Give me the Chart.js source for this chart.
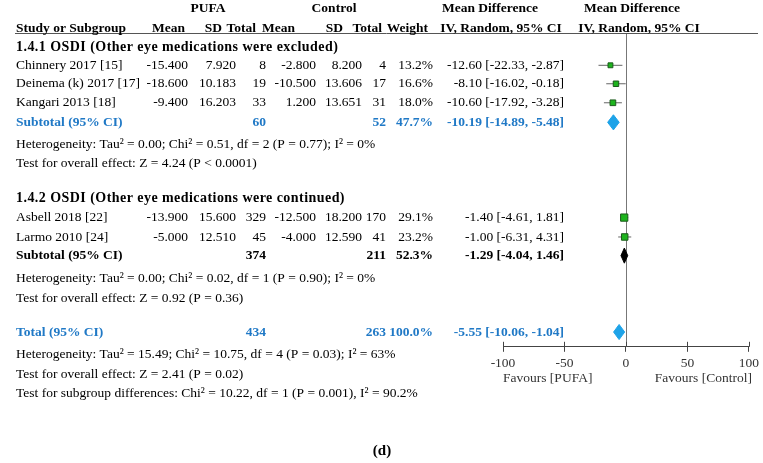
<!DOCTYPE html>
<html><head><meta charset="utf-8">
<script src="https://cdn.jsdelivr.net/npm/chart.js@4.4.0/dist/chart.umd.min.js"></script>
<style>html,body{margin:0;padding:0;background:#fff}#wrap{width:763px;height:463px;position:relative}</style>
</head><body><div id="wrap"><canvas id="c"></canvas></div>
<script>
// ---------- data ----------
const studies = ['Chinnery 2017 [15]', 'Deinema (k) 2017 [17]', 'Kangari 2013 [18]', 'Asbell 2018 [22]', 'Larmo 2010 [24]'];
const pufaMean = [-15.4, -18.6, -9.4, -13.9, -5.0];
const pufaSD = [7.92, 10.183, 16.203, 15.6, 12.51];
const pufaN = [8, 19, 33, 329, 45];
const ctrlMean = [-2.8, -10.5, 1.2, -12.5, -4.0];
const ctrlSD = [8.2, 13.606, 13.651, 18.2, 12.59];
const ctrlN = [4, 17, 31, 170, 41];
const weight = [13.2, 16.6, 18.0, 29.1, 23.2];
const md = [-12.60, -8.10, -10.60, -1.40, -1.00];
const ciLow = [-22.33, -16.02, -17.92, -4.61, -6.31];
const ciHigh = [-2.87, -0.18, -3.28, 1.81, 4.31];

const pooledLabels = ['Subtotal (95% CI)', 'Subtotal (95% CI)', 'Total (95% CI)'];
const pooledPufaN = [60, 374, 434];
const pooledCtrlN = [52, 211, 263];
const pooledWeight = [47.7, 52.3, 100.0];
const pooledMD = [-10.19, -1.29, -5.55];
const pooledLow = [-14.89, -4.04, -10.06];
const pooledHigh = [-5.48, 1.46, -1.04];

const subgroupTitles = ['1.4.1 OSDI (Other eye medications were excluded)', '1.4.2 OSDI (Other eye medications were continued)'];
const statLines = [
  'Heterogeneity: Tau² = 0.00; Chi² = 0.51, df = 2 (P = 0.77); I² = 0%',
  'Test for overall effect: Z = 4.24 (P < 0.0001)',
  'Heterogeneity: Tau² = 0.00; Chi² = 0.02, df = 1 (P = 0.90); I² = 0%',
  'Test for overall effect: Z = 0.92 (P = 0.36)',
  'Heterogeneity: Tau² = 15.49; Chi² = 10.75, df = 4 (P = 0.03); I² = 63%',
  'Test for overall effect: Z = 2.41 (P = 0.02)',
  'Test for subgroup differences: Chi² = 10.22, df = 1 (P = 0.001), I² = 90.2%'
];
const xTicks = [-100, -50, 0, 50, 100];
const groupHeaders = ['PUFA', 'Control', 'Mean Difference', 'Mean Difference'];
const columnHeaders = ['Study or Subgroup', 'Mean', 'SD', 'Total', 'Mean', 'SD', 'Total', 'Weight', 'IV, Random, 95% CI', 'IV, Random, 95% CI'];
const favourLabels = ['Favours [PUFA]', 'Favours [Control]'];
const panelLabel = '(d)';

// ---------- layout (row slots on the y scale, column anchors in px) ----------
const studyRows = [1.75, 2.75, 3.78, 10.0, 11.05];
const pooledRows = [4.84, 12.06, 16.2];
const subgroupRows = [0.76, 8.95];
const statRows = [6.04, 7.05, 13.32, 14.36, 17.43, 18.5, 19.54];
const headerRows = [-1.35, -0.27];
const BLUE_TXT = '#2079c6';
const BLUE_DIA = '#1ea3e8';
const pooledText = [BLUE_TXT, '#000', BLUE_TXT];
const pooledFill = [BLUE_DIA, '#000', BLUE_DIA];
const col = {name: 16, pMean: 188, pSD: 236, pN: 266, cMean: 316, cSD: 362, cN: 386, w: 433, ci: 564};
const hdr1 = [[208, 'center'], [334, 'center'], [490, 'center'], [632, 'center']];
const hdr2 = [[16, 'left'], [185, 'right'], [222, 'right'], [256, 'right'], [295, 'right'], [343, 'right'], [382, 'right'], [428, 'right'], [501, 'center'], [639, 'center']];
const DIA_H = 0.41;
const FONT = '"Liberation Serif", "Times New Roman", serif';

// ---------- datasets ----------
const datasets = [];
studies.forEach((s, i) => {
  datasets.push({type: 'line', data: [{x: ciLow[i], y: studyRows[i]}, {x: ciHigh[i], y: studyRows[i]}],
    borderColor: '#666', borderWidth: 1, pointRadius: 0, fill: false, order: 3});
});
datasets.push({type: 'scatter', data: studies.map((s, i) => ({x: md[i], y: studyRows[i]})),
  pointStyle: 'rect', pointRadius: ctx => 0.95 * Math.sqrt(weight[ctx.dataIndex]),
  backgroundColor: '#1db41d', borderColor: '#1c5a1c', borderWidth: 1, order: 1});
pooledMD.forEach((m, i) => {
  const r = pooledRows[i];
  datasets.push({type: 'line', data: [
      {x: pooledLow[i], y: r}, {x: m, y: r - DIA_H}, {x: pooledHigh[i], y: r}, {x: m, y: r + DIA_H}, {x: pooledLow[i], y: r}],
    borderColor: pooledFill[i], backgroundColor: pooledFill[i], borderWidth: 1, pointRadius: 0, tension: 0,
    fill: 'shape', order: 2});
});

const fmt = (v, d) => v.toFixed(d);
const ciText = (m, l, h) => `${fmt(m, 2)} [${fmt(l, 2)}, ${fmt(h, 2)}]`;

const tablePlugin = {
  id: 'table',
  beforeDatasetsDraw(chart) {
    const {ctx, chartArea, scales: {x}} = chart;
    ctx.save();
    ctx.strokeStyle = '#777'; ctx.lineWidth = 1;
    const x0 = Math.round(x.getPixelForValue(0)) + 0.5;
    ctx.beginPath(); ctx.moveTo(x0, chartArea.top); ctx.lineTo(x0, chartArea.bottom); ctx.stroke();
    ctx.restore();
  },
  afterDraw(chart) {
    const {ctx, chartArea, scales: {x, y}} = chart;
    const Y = v => y.getPixelForValue(v);
    ctx.save();
    ctx.strokeStyle = '#555'; ctx.lineWidth = 1;
    ctx.beginPath(); ctx.moveTo(15, Math.round(chartArea.top) + 0.5); ctx.lineTo(758, Math.round(chartArea.top) + 0.5); ctx.stroke();
    ctx.strokeStyle = '#444';
    xTicks.forEach(t => {
      const px = Math.round(x.getPixelForValue(t)) + 0.5;
      ctx.beginPath(); ctx.moveTo(px, chartArea.bottom - 5); ctx.lineTo(px, chartArea.bottom); ctx.stroke();
    });
    ctx.textBaseline = 'middle';
    const put = (t, px, py, align, bold, color, size, ls) => {
      ctx.font = (bold ? 'bold ' : '') + (size || 13.5) + 'px ' + FONT;
      ctx.letterSpacing = ls || '0px';
      ctx.fillStyle = color || '#000'; ctx.textAlign = align; ctx.fillText(t, px, py);
      ctx.letterSpacing = '0px';
    };
    groupHeaders.forEach((t, i) => put(t, hdr1[i][0], Y(headerRows[0]), hdr1[i][1], true));
    columnHeaders.forEach((t, i) => put(t, hdr2[i][0], Y(headerRows[1]), hdr2[i][1], true));
    subgroupTitles.forEach((t, i) => put(t, col.name, Y(subgroupRows[i]), 'left', true, '#000', 14, '0.45px'));
    studies.forEach((s, i) => {
      const py = Y(studyRows[i]);
      put(s, col.name, py, 'left');
      put(fmt(pufaMean[i], 3), col.pMean, py, 'right');
      put(fmt(pufaSD[i], 3), col.pSD, py, 'right');
      put(String(pufaN[i]), col.pN, py, 'right');
      put(fmt(ctrlMean[i], 3), col.cMean, py, 'right');
      put(fmt(ctrlSD[i], 3), col.cSD, py, 'right');
      put(String(ctrlN[i]), col.cN, py, 'right');
      put(fmt(weight[i], 1) + '%', col.w, py, 'right');
      put(ciText(md[i], ciLow[i], ciHigh[i]), col.ci, py, 'right');
    });
    pooledLabels.forEach((s, i) => {
      const py = Y(pooledRows[i]); const c = pooledText[i];
      put(s, col.name, py, 'left', true, c);
      put(String(pooledPufaN[i]), col.pN, py, 'right', true, c);
      put(String(pooledCtrlN[i]), col.cN, py, 'right', true, c);
      put(fmt(pooledWeight[i], 1) + '%', col.w, py, 'right', true, c);
      put(ciText(pooledMD[i], pooledLow[i], pooledHigh[i]), col.ci, py, 'right', true, c);
    });
    statLines.forEach((t, i) => put(t, col.name, Y(statRows[i]), 'left'));
    put(favourLabels[0], x.getPixelForValue(-100), chartArea.bottom + 32, 'left', false, '#333');
    put(favourLabels[1], x.getPixelForValue(100) + 3, chartArea.bottom + 32, 'right', false, '#333');
    put(panelLabel, 382, 451, 'center', true, '#000', 15);
    ctx.restore();
  }
};

new Chart(document.getElementById('c'), {
  data: {datasets},
  options: {
    responsive: true, maintainAspectRatio: false, animation: false, devicePixelRatio: 1,
    layout: {padding: {left: 503, right: 14, top: 33, bottom: 87}},
    plugins: {legend: {display: false}, tooltip: {enabled: false}},
    scales: {
      x: {type: 'linear', min: -100, max: 100,
        afterBuildTicks: s => { s.ticks = xTicks.map(v => ({value: v})); },
        ticks: {color: '#333', font: {family: FONT, size: 13.5}, padding: 4, maxRotation: 0},
        grid: {display: true, drawOnChartArea: false, drawTicks: true, tickLength: 5, color: '#444'},
        border: {display: true, color: '#444', width: 1}},
      y: {type: 'linear', min: 0, max: 17, reverse: true, display: false}
    }
  },
  plugins: [tablePlugin]
});
</script>
</body></html>
